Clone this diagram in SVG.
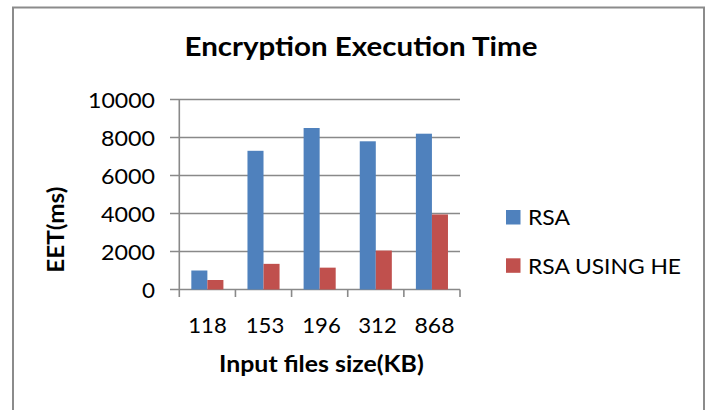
<svg xmlns="http://www.w3.org/2000/svg" width="712" height="410" viewBox="0 0 712 410">
<style>
.lbl{font-family:Lato,"Liberation Sans",sans-serif;font-size:20.5px;fill:#000}
.ttl{font-family:Lato,"Liberation Sans",sans-serif;font-weight:bold;fill:#000}
.grid{stroke:#898989;stroke-width:1.6;fill:none}
.rsa{fill:#4F81BD}
.he{fill:#C0504D}
</style>
<rect x="0" y="0" width="712" height="410" fill="#fff"/>
<rect id="frame" x="13" y="7.5" width="691" height="420" fill="#fff" stroke="#8b8b8b" stroke-width="2"/>
<text id="title" class="ttl" x="361" y="56.3" font-size="27" text-anchor="middle" textLength="353" lengthAdjust="spacingAndGlyphs">Encryption Execution Time</text>
<g id="grid">
<path class="grid" d="M170 99.5H460M170 137.5H460M170 175.5H460M170 213.5H460M170 251.5H460M170 289.5H460"/>
<path class="grid" d="M179.3 99.5V297M235.44 289.5V297M291.58 289.5V297M347.72 289.5V297M403.86 289.5V297M460 289.5V297"/>
</g>
<g id="yaxis-labels">
<text class="lbl" x="155" y="108" text-anchor="end" textLength="67" lengthAdjust="spacingAndGlyphs">10000</text>
<text class="lbl" x="155" y="146" text-anchor="end" textLength="54" lengthAdjust="spacingAndGlyphs">8000</text>
<text class="lbl" x="155" y="184" text-anchor="end" textLength="54" lengthAdjust="spacingAndGlyphs">6000</text>
<text class="lbl" x="155" y="222" text-anchor="end" textLength="54" lengthAdjust="spacingAndGlyphs">4000</text>
<text class="lbl" x="155" y="260" text-anchor="end" textLength="54" lengthAdjust="spacingAndGlyphs">2000</text>
<text class="lbl" x="155" y="298" text-anchor="end" textLength="13" lengthAdjust="spacingAndGlyphs">0</text>
</g>
<g id="bars-rsa">
<rect class="rsa" x="191.33" y="270.5" width="16.04" height="19"/>
<rect class="rsa" x="247.47" y="150.8" width="16.04" height="138.7"/>
<rect class="rsa" x="303.61" y="128" width="16.04" height="161.5"/>
<rect class="rsa" x="359.75" y="141.3" width="16.04" height="148.2"/>
<rect class="rsa" x="415.89" y="133.7" width="16.04" height="155.8"/>
</g>
<g id="bars-he">
<rect class="he" x="207.37" y="280" width="16.04" height="9.5"/>
<rect class="he" x="263.51" y="263.85" width="16.04" height="25.65"/>
<rect class="he" x="319.65" y="267.65" width="16.04" height="21.85"/>
<rect class="he" x="375.79" y="250.55" width="16.04" height="38.95"/>
<rect class="he" x="431.93" y="214.45" width="16.04" height="75.05"/>
</g>
<g id="xaxis-labels">
<text class="lbl" x="207.5" y="332.5" text-anchor="middle" textLength="38.5" lengthAdjust="spacingAndGlyphs">118</text>
<text class="lbl" x="265" y="332.5" text-anchor="middle" textLength="38.5" lengthAdjust="spacingAndGlyphs">153</text>
<text class="lbl" x="321.5" y="332.5" text-anchor="middle" textLength="38.5" lengthAdjust="spacingAndGlyphs">196</text>
<text class="lbl" x="377.5" y="332.5" text-anchor="middle" textLength="38.5" lengthAdjust="spacingAndGlyphs">312</text>
<text class="lbl" x="434.5" y="332.5" text-anchor="middle" textLength="40" lengthAdjust="spacingAndGlyphs">868</text>
</g>
<text id="xtitle" class="ttl" x="321.4" y="372" font-size="23.3" text-anchor="middle" textLength="204.7" lengthAdjust="spacingAndGlyphs">Input files size(KB)</text>
<text id="ytitle" class="ttl" font-size="23.3" text-anchor="middle" textLength="86" lengthAdjust="spacingAndGlyphs" transform="translate(64,229.7) rotate(-90)">EET(ms)</text>
<g id="legend">
<rect class="rsa" x="506" y="210" width="14.5" height="14.5"/>
<text class="lbl" x="528" y="225" textLength="42" lengthAdjust="spacingAndGlyphs">RSA</text>
<rect class="he" x="506" y="258.3" width="14.5" height="14.5"/>
<text class="lbl" x="528" y="273.5" textLength="153" lengthAdjust="spacingAndGlyphs">RSA USING HE</text>
</g>
</svg>
